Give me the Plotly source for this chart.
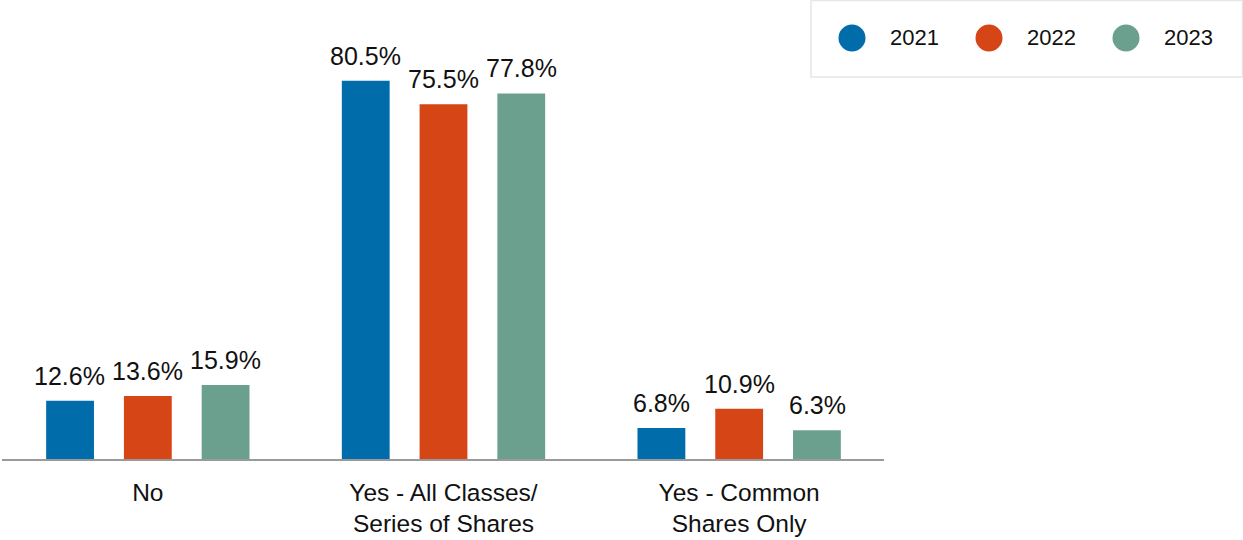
import plotly.graph_objects as go

categories = ["No", "Yes - All Classes/<br>Series of Shares", "Yes - Common<br>Shares Only"]
years = ["2021", "2022", "2023"]
values_2021 = [12.6, 80.5, 6.8]
values_2022 = [13.6, 75.5, 10.9]
values_2023 = [15.9, 77.8, 6.3]
series = [values_2021, values_2022, values_2023]
colors = ["#006DAA", "#D64515", "#6BA08F"]

W, H = 1243, 540
FONT = "Liberation Sans, Arial, sans-serif"
SLOT = 78  # px between bar centres within a group

fig = go.Figure()
annotations = []
for i, (name, vals, col) in enumerate(zip(years, series, colors)):
    fig.add_trace(go.Bar(
        x=categories, y=vals, name=name, marker=dict(color=col, line=dict(width=0)),
        showlegend=False,
    ))
    for cat, v in zip(categories, vals):
        annotations.append(dict(
            x=cat, y=v, xref="x", yref="y", text=f"{v:.1f}%", showarrow=False,
            xanchor="center", yanchor="bottom", xshift=(i - 1) * SLOT, yshift=9,
            font=dict(size=25, color="#111111", family=FONT)))

# baseline
shapes = [dict(type="line", xref="paper", yref="paper", x0=2 / W, x1=884 / W,
               y0=80 / H, y1=80 / H, line=dict(color="#9A9A9A", width=2))]
# manual legend (circle swatches) in paper coordinates
shapes.append(dict(type="rect", xref="paper", yref="paper",
                   x0=811 / W, x1=1242.5 / W, y0=1 - 77 / H, y1=1 - 0.5 / H,
                   line=dict(color="#E6E6E6", width=1.5), fillcolor="white"))
cx_list = [852, 989, 1126]
for name, col, cx in zip(years, colors, cx_list):
    r = 13.5
    cy = 38
    shapes.append(dict(type="circle", xref="paper", yref="paper",
                       x0=(cx - r) / W, x1=(cx + r) / W, y0=1 - (cy + r) / H, y1=1 - (cy - r) / H,
                       fillcolor=col, line=dict(width=0)))
    annotations.append(dict(text=name, xref="paper", yref="paper", x=(cx + 36) / W, y=1 - (cy - 1) / H,
                            xanchor="left", yanchor="middle", showarrow=False,
                            font=dict(size=22, color="#111111", family=FONT)))

fig.update_layout(
    width=W, height=H, autosize=False,
    margin=dict(l=0, r=0, t=0, b=0),
    paper_bgcolor="white", plot_bgcolor="white",
    barmode="group", bargap=0.211, bargroupgap=0.385,
    font=dict(family=FONT, size=24, color="#111111"),
    xaxis=dict(domain=[0, 887 / W], showline=False,
               ticks="", showgrid=False, tickfont=dict(size=24.5, color="#111111"),
               ticklabelstandoff=15),
    yaxis=dict(domain=[80 / H, 537 / H], range=[0, 97], visible=False, showgrid=False,
               zeroline=False),
    shapes=shapes, annotations=annotations, showlegend=False,
)

fig.write_html("out.html")
